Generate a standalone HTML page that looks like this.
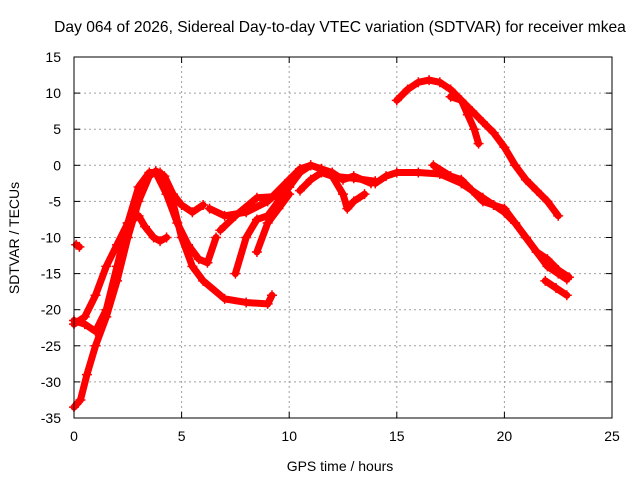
<!DOCTYPE html>
<html><head><meta charset="utf-8"><style>
body{margin:0;background:#fff;}
svg text{font-family:"Liberation Sans",sans-serif;font-size:14px;fill:#000;}
</style></head><body>
<svg id="chart" width="640" height="480" xmlns="http://www.w3.org/2000/svg">
<rect width="640" height="480" fill="#fff"/>
<text x="340" y="32" text-anchor="middle" style="font-size:15.6px">Day 064 of 2026, Sidereal Day-to-day VTEC variation (SDTVAR) for receiver mkea</text>
<g id="grid"></g>
<g id="series"></g>
<g id="axes"></g>
<text x="340" y="471" text-anchor="middle">GPS time / hours</text>
<text transform="translate(19,238) rotate(-90)" text-anchor="middle">SDTVAR / TECUs</text>
</svg>
<script>
const xTicks=[0,5,10,15,20,25];
const yTicks=[15,10,5,0,-5,-10,-15,-20,-25,-30,-35];
const track1=[[0,-33.5],[0.3,-32.5],[0.6,-29],[1,-25],[1.5,-21],[2,-16],[2.5,-10],[3,-5],[3.5,-1.5],[3.8,-0.8],[4.2,-1.5],[4.6,-4],[5,-5.5],[5.5,-6.5],[6,-5.5]];
const track2=[[0,-22],[0.5,-21],[1,-18],[1.5,-14],[2,-11],[2.5,-8],[3,-7],[3.3,-8.5],[3.7,-10],[4,-10.5],[4.3,-10]];
const track3=[[0,-21.5],[0.5,-22],[1,-23],[1.5,-20],[2,-14],[2.5,-8],[3,-3],[3.5,-1],[4,-1],[4.5,-4],[5,-10],[5.5,-14],[6,-16],[7,-18.5],[8,-19],[9,-19.2],[9.2,-18]];
const track4=[[3.8,-1],[4.3,-4],[4.8,-8],[5.3,-11],[5.8,-13],[6.2,-13.5],[6.6,-10]];
const track5=[[6.3,-6],[7,-7],[8,-6.5],[9,-5],[10,-2],[10.5,-0.5],[11,0],[11.5,-0.5],[12,-1],[12.5,-2],[13,-1.5],[13.8,-2.5]];
const track6=[[7.5,-15],[8,-10],[8.5,-7.5],[9,-7],[9.5,-5],[10,-3],[10.5,-1],[11,0],[11.5,-0.5],[12,-1.5],[12.5,-4],[12.7,-6],[13,-5],[13.5,-4]];
const track7=[[6.8,-9],[7.5,-7],[8.5,-4.5],[9.5,-4.3],[10,-3]];
const track8=[[8.5,-12],[9,-8],[9.5,-6],[10,-4]];
const track9=[[10.5,-3.5],[11,-2],[11.5,-1],[12,-1.5],[13,-1.8],[14,-2.2]];
const track10=[[14,-2.5],[14.5,-1.5],[15,-1],[16,-1],[17,-1.2],[18,-2.5],[19,-4.5],[19.5,-5.5],[20,-6],[20.5,-8],[21,-10],[21.5,-12],[22,-13],[22.5,-14.5],[23,-15.5]];
const track11=[[15,9],[15.5,10.5],[16,11.5],[16.5,11.8],[17,11.5],[17.5,10.5],[18,9],[18.3,7],[18.6,5],[18.8,3]];
const track12=[[17.5,9.5],[18,9],[18.5,7.5],[19,6],[19.5,4.5],[20,2.5],[20.5,0],[21,-2],[21.5,-3.5],[22,-5],[22.5,-7]];
const track13=[[16.7,0],[17.5,-1.5],[18,-2],[18.5,-3.5],[19,-5],[19.5,-5.5],[20,-6.5],[20.5,-8],[21,-10],[21.5,-12],[22,-14],[22.5,-15],[22.9,-15.8]];
const track14=[[21.9,-16],[22.4,-17],[22.9,-18]];
const track15=[[0.1,-11],[0.25,-11.3]];
const tracks=[track1,track2,track3,track4,track5,track6,track7,track8,track9,track10,track11,track12,track13,track14,track15];

const X0=74,X1=612,Y0=418,Y1=57;
const xs=v=>X0+(v-0)/25*(X1-X0);
const ys=v=>Y0-(v+35)/50*(Y0-Y1);
const NS="http://www.w3.org/2000/svg";
function mk(t,a,p){const e=document.createElementNS(NS,t);for(const k in a)e.setAttribute(k,a[k]);p.appendChild(e);return e;}
const grid=document.getElementById('grid'),axes=document.getElementById('axes'),ser=document.getElementById('series');
xTicks.forEach(t=>{
  if(t>0&&t<25){const l=mk('line',{x1:xs(t),x2:xs(t),y1:Y0,y2:Y1,stroke:'#a0a0a0','stroke-dasharray':'2,3'},grid);
  
  }
  const tx=mk('text',{x:xs(t),y:Y0+23,'text-anchor':'middle'},axes);tx.textContent=t;
  
  
  mk('line',{x1:xs(t),x2:xs(t),y1:Y0,y2:Y0-6,stroke:'#000'},axes);
  mk('line',{x1:xs(t),x2:xs(t),y1:Y1,y2:Y1+6,stroke:'#000'},axes);
});
yTicks.forEach(t=>{
  if(t>-35&&t<15){const l=mk('line',{x1:X0,x2:X1,y1:ys(t),y2:ys(t),stroke:'#a0a0a0','stroke-dasharray':'2,3'},grid);
  
  }
  const tx=mk('text',{x:X0-13,y:ys(t)+5,'text-anchor':'end'},axes);tx.textContent=t;
  
  
  mk('line',{x1:X0,x2:X0+6,y1:ys(t),y2:ys(t),stroke:'#000'},axes);
  mk('line',{x1:X1,x2:X1-6,y1:ys(t),y2:ys(t),stroke:'#000'},axes);
});
const fr=mk('rect',{x:X0,y:Y1,width:X1-X0,height:Y0-Y1,fill:'none',stroke:'#000'},axes);


tracks.forEach((tr,i)=>{
  const p=mk('polyline',{points:tr.map(d=>xs(d[0])+','+ys(d[1])).join(' '),fill:'none',stroke:'#ff0000','stroke-width':7,'stroke-linejoin':'round','stroke-linecap':'round'},ser);
  
  
  tr.forEach(d=>{
    const m=mk('path',{d:`M${xs(d[0])-5},${ys(d[1])}h10M${xs(d[0])},${ys(d[1])-5}v10`,stroke:'#ff0000','stroke-width':1.5},ser);
    
    
  });
});
</script>
</body></html>
